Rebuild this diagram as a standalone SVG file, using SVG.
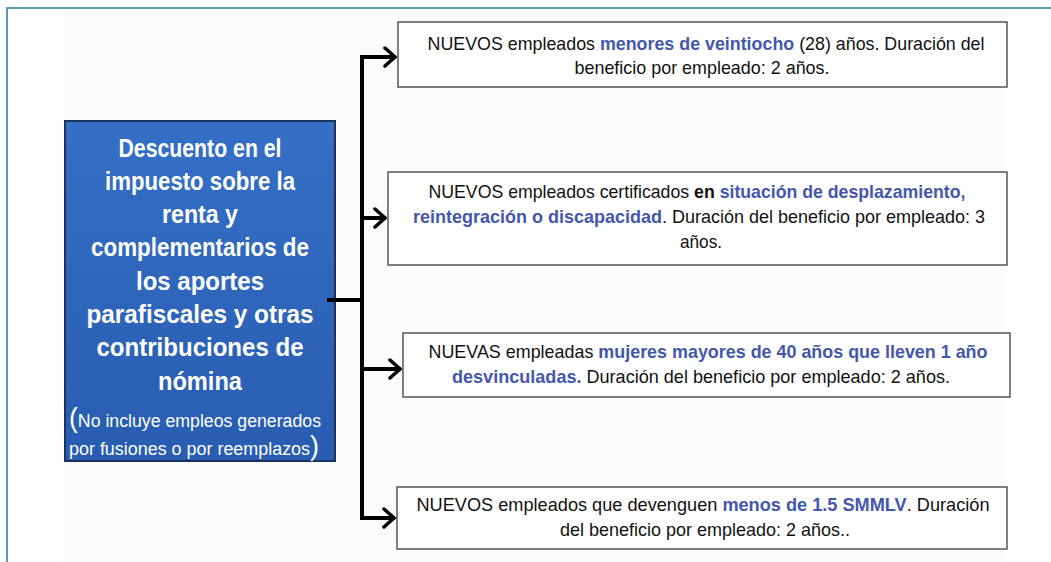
<svg xmlns="http://www.w3.org/2000/svg" width="1051" height="562" viewBox="0 0 1051 562">
<defs>
<linearGradient id="gBlue" x1="0" y1="0" x2="0" y2="1">
<stop offset="0" stop-color="#3470c6"/>
<stop offset="1" stop-color="#285cb0"/>
</linearGradient>
<marker id="arr" markerUnits="userSpaceOnUse" viewBox="0 0 16 22" refX="14" refY="11" markerWidth="16" markerHeight="22" orient="auto">
<path d="M3,2 L13,11 L3,20" fill="none" stroke="#000" stroke-width="3.5" stroke-linecap="round" stroke-linejoin="miter"/>
</marker>
</defs>
<style>
.frame{stroke:#5b9bb5;stroke-width:2;fill:none}
.box{fill:#fff;stroke:#555;stroke-width:1.5}
.t{font-family:"Liberation Sans",Arial,sans-serif;font-size:18.5px;fill:#111;text-anchor:middle}
.b{font-weight:bold;fill:#4358ad}
.k{font-weight:bold}
.wt{font-family:"Liberation Sans",Arial,sans-serif;font-size:26.5px;font-weight:bold;fill:#fff;text-anchor:middle}
.ws{font-family:"Liberation Sans",Arial,sans-serif;font-size:18px;fill:#fff;text-anchor:middle}
.conn{fill:none;stroke:#000;stroke-width:4;stroke-linejoin:miter}
</style>
<rect x="0" y="0" width="1051" height="562" fill="#fff"/>
<rect x="63" y="14" width="940" height="548" fill="#fbfbfb"/>
<path class="frame" d="M7,562 V8 H1051"/>

<g id="main">
<rect x="65" y="121" width="270" height="340" fill="url(#gBlue)" stroke="#1b335f" stroke-width="2"/>
<text class="wt" x="200" y="157" textLength="163" lengthAdjust="spacingAndGlyphs">Descuento en el</text>
<text class="wt" x="200" y="190" textLength="190" lengthAdjust="spacingAndGlyphs">impuesto sobre la</text>
<text class="wt" x="200" y="223" textLength="76" lengthAdjust="spacingAndGlyphs">renta y</text>
<text class="wt" x="200" y="256" textLength="218" lengthAdjust="spacingAndGlyphs">complementarios de</text>
<text class="wt" x="200" y="290" textLength="128" lengthAdjust="spacingAndGlyphs">los aportes</text>
<text class="wt" x="200" y="323" textLength="227" lengthAdjust="spacingAndGlyphs">parafiscales y otras</text>
<text class="wt" x="200" y="356" textLength="207" lengthAdjust="spacingAndGlyphs">contribuciones de</text>
<text class="wt" x="200" y="390" textLength="84" lengthAdjust="spacingAndGlyphs">nómina</text>
<text class="ws" x="195" y="427" textLength="252" lengthAdjust="spacingAndGlyphs"><tspan font-size="27">(</tspan>No incluye empleos generados</text>
<text class="ws" x="194" y="455" textLength="250" lengthAdjust="spacingAndGlyphs">por fusiones o por reemplazos<tspan font-size="27">)</tspan></text>
</g>

<g id="connectors">
<path class="conn" d="M327,300 H362"/>
<path class="conn" d="M362,300 V57 H396" marker-end="url(#arr)"/>
<path class="conn" d="M362,300 V518 H395" marker-end="url(#arr)"/>
<path class="conn" d="M362,218 H386" marker-end="url(#arr)"/>
<path class="conn" d="M362,369 H401" marker-end="url(#arr)"/>
</g>

<g id="box1">
<rect class="box" x="398" y="22" width="609" height="65"/>
<text class="t" x="706" y="50" textLength="557" lengthAdjust="spacingAndGlyphs">NUEVOS empleados <tspan class="b">menores de veintiocho</tspan> (28) años. Duración del</text>
<text class="t" x="702" y="74" textLength="255" lengthAdjust="spacingAndGlyphs">beneficio por empleado: 2 años.</text>
</g>

<g id="box2">
<rect class="box" x="388" y="172" width="619" height="93"/>
<text class="t" x="697" y="198" textLength="537" lengthAdjust="spacingAndGlyphs">NUEVOS empleados certificados <tspan class="k">en</tspan> <tspan class="b">situación de desplazamiento,</tspan></text>
<text class="t" x="699" y="223" textLength="572" lengthAdjust="spacingAndGlyphs"><tspan class="b">reintegración o discapacidad</tspan>. Duración del beneficio por empleado: 3</text>
<text class="t" x="701" y="248" textLength="42" lengthAdjust="spacingAndGlyphs">años.</text>
</g>

<g id="box3">
<rect class="box" x="403" y="333" width="607" height="64"/>
<text class="t" x="708" y="358" textLength="559" lengthAdjust="spacingAndGlyphs">NUEVAS empleadas <tspan class="b">mujeres mayores de 40 años que lleven 1 año</tspan></text>
<text class="t" x="701" y="383" textLength="498" lengthAdjust="spacingAndGlyphs"><tspan class="b">desvinculadas.</tspan> Duración del beneficio por empleado: 2 años.</text>
</g>

<g id="box4">
<rect class="box" x="397" y="487" width="610" height="62"/>
<text class="t" x="703" y="511" textLength="573" lengthAdjust="spacingAndGlyphs">NUEVOS empleados que devenguen <tspan class="b">menos de 1.5 SMMLV</tspan>. Duración</text>
<text class="t" x="705" y="536" textLength="290" lengthAdjust="spacingAndGlyphs">del beneficio por empleado: 2 años..</text>
</g>
</svg>
